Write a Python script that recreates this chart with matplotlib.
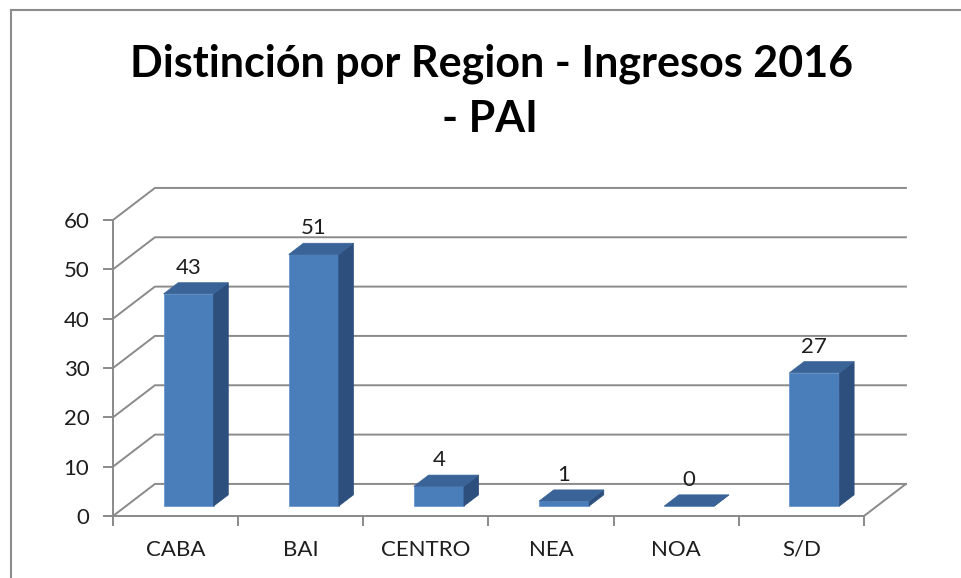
import numpy as np
import matplotlib
matplotlib.use("Agg")
import matplotlib.pyplot as plt
from matplotlib.patches import Polygon
from matplotlib.lines import Line2D

regiones = ["CABA", "BAI", "CENTRO", "NEA", "NOA", "S/D"]
ingresos = [43, 51, 4, 1, 0, 27]
yticks = [0, 10, 20, 30, 40, 50, 60]
titulo1 = "Distinción por Region - Ingresos 2016"
titulo2 = "- PAI"

plt.rcParams['font.family'] = ['Lato', 'DejaVu Sans']

# depth of the floor/back wall (x in category units, y in value units)
DX, DY = 0.335, 6.5
# bars sit a bit into the floor and have their own depth
frac0, frac1 = 0.31, 0.66
bw = 0.40

grid_c = '#8a8a8a'
front_c = '#4a7ebb'
side_c = '#2c4f7d'
top_c = '#3a6397'
text_c = '#1e1e1e'

fig = plt.figure(figsize=(9.61, 5.78), dpi=100, facecolor='white')
ax = fig.add_axes([113/961, 62/578, 751/961, 296/578])
ax.set_xlim(-0.5, len(regiones) - 0.5)
ax.set_ylim(0, 60)
ax.patch.set_alpha(0)

xr = len(regiones) - 0.5
# back wall gridlines with their diagonals on the side wall
for v in yticks:
    ax.add_line(Line2D([-0.5, -0.5 + DX, xr + DX], [v, v + DY, v + DY],
                       color=grid_c, lw=1.4, clip_on=False, zorder=1))
# right edge of the floor
ax.add_line(Line2D([xr, xr + DX], [0, DY], color=grid_c, lw=1.4,
                   clip_on=False, zorder=1))

x = np.arange(len(regiones))
ox, oy = frac0 * DX, frac0 * DY
bdx, bdy = (frac1 - frac0) * DX, (frac1 - frac0) * DY

ax.bar(x + ox, ingresos, width=bw, bottom=oy, color=front_c,
       edgecolor='#5b8fcc', linewidth=0.5, zorder=3)
for xi, v in zip(x + ox, ingresos):
    x0, x1 = xi - bw / 2, xi + bw / 2
    y0, y1 = oy, oy + v
    side = Polygon([[x1, y0], [x1 + bdx, y0 + bdy], [x1 + bdx, y1 + bdy], [x1, y1]],
                   closed=True, facecolor=side_c, edgecolor=side_c, lw=0.5,
                   zorder=3, clip_on=False)
    top = Polygon([[x0, y1], [x0 + bdx, y1 + bdy], [x1 + bdx, y1 + bdy], [x1, y1]],
                  closed=True, facecolor=top_c, edgecolor=top_c, lw=0.5,
                  zorder=3, clip_on=False)
    ax.add_patch(side)
    ax.add_patch(top)
    ax.text(xi, y1 + bdy + 1.0, str(v), ha='center', va='bottom',
            fontsize=16, color=text_c, zorder=4)

# axes lines and ticks
for s in ['top', 'right']:
    ax.spines[s].set_visible(False)
for s in ['left', 'bottom']:
    ax.spines[s].set_color(grid_c)
    ax.spines[s].set_linewidth(1.4)
    ax.spines[s].set_zorder(2)

ax.set_yticks(yticks)
ax.tick_params(axis='y', length=7, width=1.4, color=grid_c, pad=10,
               labelsize=16, labelcolor=text_c)
ax.set_xticks(np.arange(len(regiones) + 1) - 0.5)
ax.set_xticklabels([])
ax.set_xticks(x, minor=True)
ax.set_xticklabels(regiones, minor=True)
ax.tick_params(axis='x', which='major', length=7, width=1.4, color=grid_c)
ax.tick_params(axis='x', which='minor', length=0, pad=17,
               labelsize=16, labelcolor=text_c)

# title
fig.text(492/961, 1 - 76/578, titulo1, ha='center', va='baseline',
         fontsize=31, fontweight='bold', color='black')
fig.text(490/961, 1 - 132/578, titulo2, ha='center', va='baseline',
         fontsize=31, fontweight='bold', color='black')

# chart frame
fig.add_artist(Line2D([11/961, 11/961], [0, 1 - 10/578], color='#8c8c8c',
                      lw=1.5, transform=fig.transFigure))
fig.add_artist(Line2D([11/961, 1], [1 - 10/578, 1 - 10/578], color='#8c8c8c',
                      lw=1.5, transform=fig.transFigure))

fig.savefig("out.png", dpi=100, facecolor='white')
